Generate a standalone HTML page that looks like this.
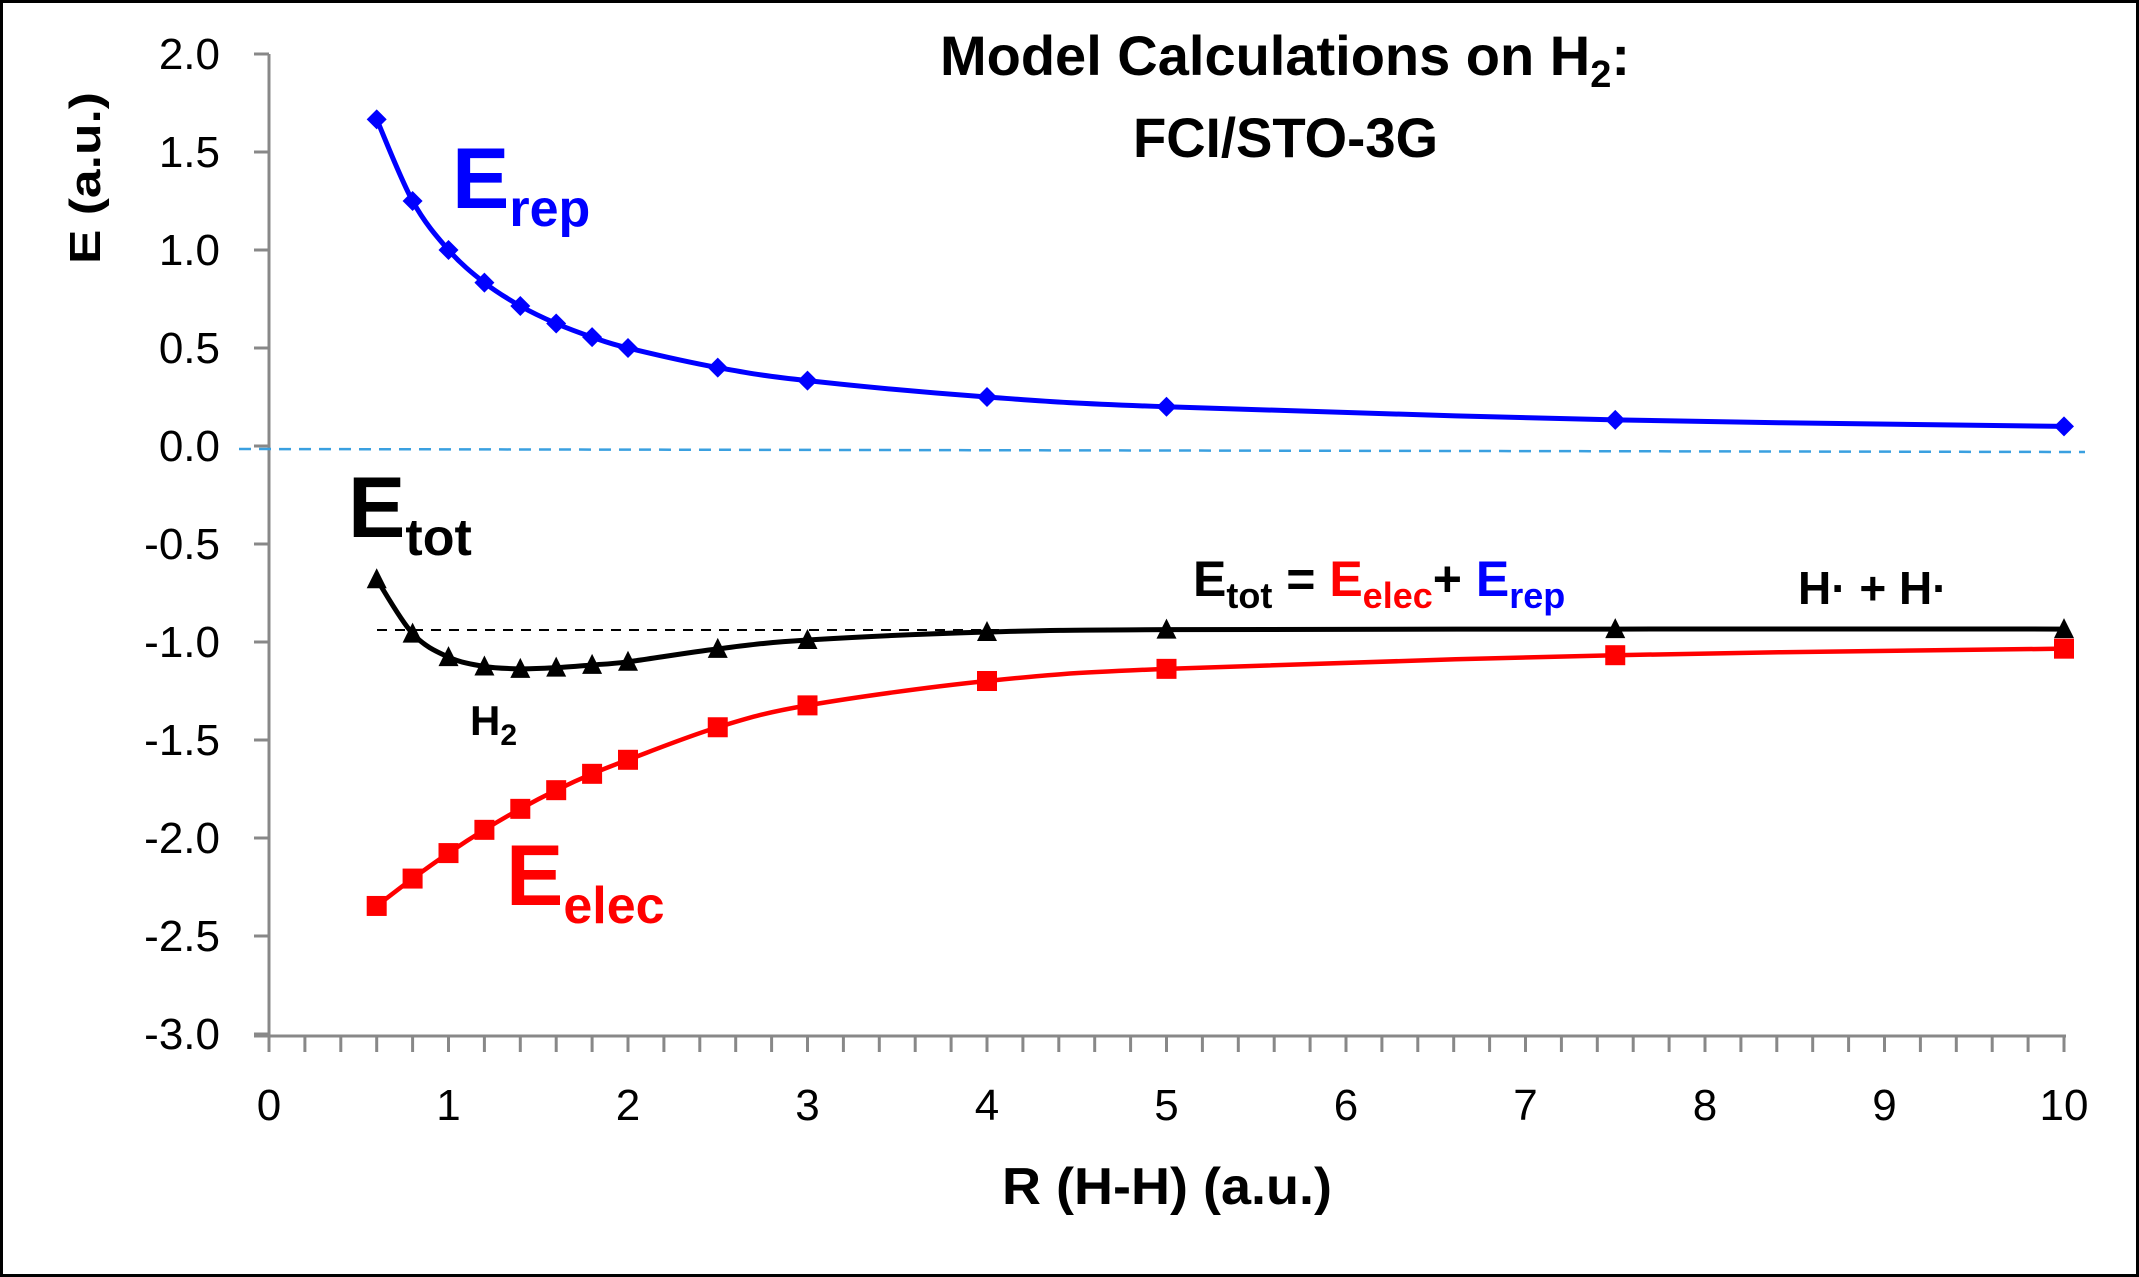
<!DOCTYPE html>
<html><head><meta charset="utf-8"><style>
html,body{margin:0;padding:0;background:#fff}
svg{display:block}
text{font-family:"Liberation Sans",sans-serif}
</style></head><body>
<svg id="s" width="2139" height="1277" viewBox="0 0 2139 1277" xmlns="http://www.w3.org/2000/svg">
<rect x="1.5" y="1.5" width="2136" height="1274" fill="#fff" stroke="#000" stroke-width="3"/>
<g id="axes" stroke="#888" stroke-width="3" fill="none"></g>
<line x1="239" y1="449" x2="2085" y2="452" stroke="#3aa0e0" stroke-width="2.5" stroke-dasharray="12,8"/>
<line x1="377" y1="630" x2="1200" y2="630" stroke="#000" stroke-width="2" stroke-dasharray="10,8"/>
<g id="series"></g>
<g font-size="44" fill="#000" text-anchor="end" id="ylab"></g>
<g font-size="44" fill="#000" text-anchor="middle" id="xlab"></g>
<text x="1167" y="1204" font-size="52" font-weight="bold" text-anchor="middle" textLength="330" lengthAdjust="spacingAndGlyphs">R (H-H) (a.u.)</text>
<text transform="translate(100,178) rotate(-90)" font-size="44" font-weight="bold" text-anchor="middle" textLength="172" lengthAdjust="spacingAndGlyphs">E (a.u.)</text>
<text x="940" y="75" font-size="56" font-weight="bold" textLength="690" lengthAdjust="spacingAndGlyphs">Model Calculations on H<tspan font-size="38" dy="12">2</tspan><tspan dy="-12">:</tspan></text>
<text x="1133" y="157" font-size="56" font-weight="bold" textLength="305" lengthAdjust="spacingAndGlyphs">FCI/STO-3G</text>
<text x="452" y="208" font-size="86" font-weight="bold" fill="#0000ff">E<tspan font-size="52" dy="18">rep</tspan></text>
<text x="348" y="537" font-size="86" font-weight="bold" fill="#000">E<tspan font-size="52" dy="18">tot</tspan></text>
<text x="506" y="905" font-size="86" font-weight="bold" fill="#ff0000">E<tspan font-size="52" dy="18">elec</tspan></text>
<text x="1193" y="596" font-size="50" font-weight="bold">E<tspan font-size="36" dy="12">tot</tspan><tspan dy="-12"> = </tspan><tspan fill="#ff0000">E</tspan><tspan fill="#ff0000" font-size="36" dy="12">elec</tspan><tspan dy="-12">+ </tspan><tspan fill="#0000ff">E</tspan><tspan fill="#0000ff" font-size="36" dy="12">rep</tspan></text>
<text x="1798" y="604" font-size="46" font-weight="bold">H· + H·</text>
<text x="470" y="735" font-size="42" font-weight="bold">H<tspan font-size="30" dy="10">2</tspan></text>
</svg>
<script>
var NS="http://www.w3.org/2000/svg";
function X(r){return 269+179.5*r}function Y(e){return 446-196*e}
function el(t,a,p){var e=document.createElementNS(NS,t);for(var k in a)e.setAttribute(k,a[k]);p.appendChild(e);return e}
var ax=document.getElementById('axes');
el('line',{x1:269,y1:54,x2:269,y2:1036},ax);
el('line',{x1:254,y1:1036,x2:2066,y2:1036},ax);
var yl=document.getElementById('ylab'),xl=document.getElementById('xlab');
for(var v=2;v>=-3.001;v-=0.5){var y=Y(v);el('line',{x1:254,y1:y,x2:269,y2:y},ax);
var t=el('text',{x:220,y:y+15},yl);t.textContent=(Math.abs(v)<1e-9?0:v).toFixed(1);}
for(var i=0;i<=50;i++){var x=X(i*0.2);el('line',{x1:x,y1:1036,x2:x,y2:1052},ax);}
for(var i=0;i<=10;i++){var t=el('text',{x:X(i),y:1120},xl);t.textContent=i;}
var R=[0.6,0.8,1.0,1.2,1.4,1.6,1.8,2.0,2.5,3.0,4.0,5.0,7.5,10];
var Et=[-0.68,-0.957,-1.077,-1.125,-1.137,-1.131,-1.117,-1.101,-1.035,-0.99,-0.949,-0.937,-0.934,-0.934];
var Er=R.map(function(r){return 1/r});var Ee=Et.map(function(e,i){return e-Er[i]});
function path(vals){var p=R.map(function(r,i){return[X(r),Y(vals[i])]});var d="M"+p[0][0]+","+p[0][1];
for(var i=0;i<p.length-1;i++){var p0=p[i-1]||p[i],p1=p[i],p2=p[i+1],p3=p[i+2]||p2;
d+=" C"+(p1[0]+(p2[0]-p0[0])/6)+","+(p1[1]+(p2[1]-p0[1])/6)+" "+(p2[0]-(p3[0]-p1[0])/6)+","+(p2[1]-(p3[1]-p1[1])/6)+" "+p2[0]+","+p2[1];}return d}
var g=document.getElementById('series');
el('path',{d:path(Er),stroke:"#0000ff","stroke-width":5,fill:"none"},g);
el('path',{d:path(Ee),stroke:"#ff0000","stroke-width":4.5,fill:"none"},g);
el('path',{d:path(Et),stroke:"#000","stroke-width":5,fill:"none"},g);
R.forEach(function(r,i){var x=X(r);
var y=Y(Er[i]);el('polygon',{points:(x)+","+(y-10)+" "+(x+10)+","+y+" "+x+","+(y+10)+" "+(x-10)+","+y,fill:"#0000ff"},g);
y=Y(Ee[i]);el('rect',{x:x-10,y:y-10,width:20,height:20,fill:"#ff0000"},g);
y=Y(Et[i]);el('polygon',{points:x+","+(y-11)+" "+(x+10)+","+(y+9)+" "+(x-10)+","+(y+9),fill:"#000"},g);});
</script>
</body></html>
